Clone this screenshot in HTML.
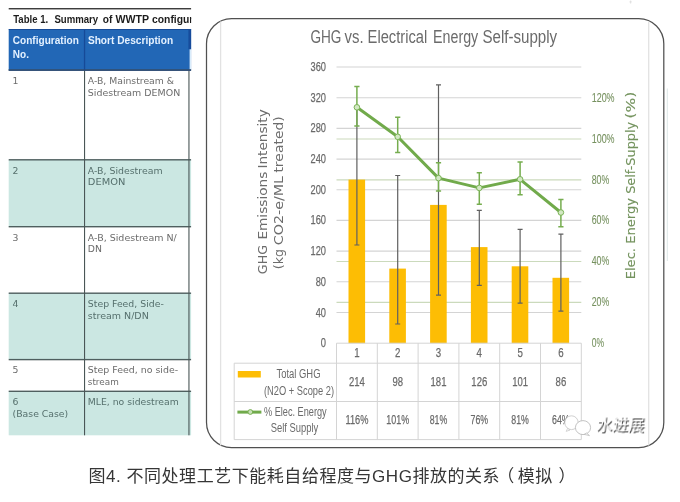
<!DOCTYPE html>
<html lang="zh">
<head>
<meta charset="utf-8">
<title>图4. 不同处理工艺下能耗自给程度与GHG排放的关系（模拟）</title>
<style>
html,body{margin:0;padding:0;background:#fff}
body{width:680px;height:502px;overflow:hidden;position:relative;font-family:"Liberation Sans","Noto Sans CJK SC",sans-serif}
svg{position:absolute;left:0;top:0;display:block;filter:blur(.45px)}
.th{font:bold 10px "Liberation Sans",sans-serif;fill:#e4f1ff}
.tt{font:bold 10px "Liberation Sans",sans-serif;fill:#1c1c1c}
.td{font:9.3px "DejaVu Sans","Liberation Sans",sans-serif;fill:#6c6c6c}
.tg{font:9.3px "DejaVu Sans","Liberation Sans",sans-serif;fill:#56706d}
.ct{font:17.5px "Liberation Sans",sans-serif;fill:#6b6b6b}
.ax{font:13px "Liberation Sans",sans-serif;fill:#6a6a6a;stroke:#6a6a6a;stroke-width:.25px}
.ar{font:12.5px "Liberation Sans",sans-serif;fill:#76915f;stroke:#76915f;stroke-width:.1px}
.at{font:12.5px "DejaVu Sans","Liberation Sans",sans-serif;fill:#6c6c6c}
.ag{font:12.5px "DejaVu Sans","Liberation Sans",sans-serif;fill:#74935e;stroke:#74935e;stroke-width:.12px}
.dt{font:13px "Liberation Sans",sans-serif;fill:#6a6a6a;stroke:#6a6a6a;stroke-width:.25px}
.lg{font:12px "Liberation Sans",sans-serif;fill:#6a6a6a}
.cap{font:17px "Liberation Sans","Noto Sans CJK SC",sans-serif;fill:#363636}
.wm{font:16px "Liberation Sans","Noto Sans CJK SC",sans-serif}
</style>
</head>
<body>
<svg width="680" height="502" viewBox="0 0 680 502">
<defs>
<clipPath id="tc"><rect x="0" y="0" width="191.3" height="502"/></clipPath>
</defs>
<rect x="0" y="0" width="680" height="502" fill="#ffffff"/>

<g clip-path="url(#tc)">
<rect x="8.7" y="8.1" width="182.6" height="1.3" fill="#2a2a2a"/>
<text class="tt" y="23.3"><tspan x="13.2" textLength="35" lengthAdjust="spacingAndGlyphs">Table 1.</tspan> <tspan x="54.4" textLength="43.8" lengthAdjust="spacingAndGlyphs">Summary</tspan> <tspan x="102.8" textLength="9.6" lengthAdjust="spacingAndGlyphs">of</tspan> <tspan x="115.4" textLength="33.4" lengthAdjust="spacingAndGlyphs">WWTP</tspan> <tspan x="152" textLength="41.4" lengthAdjust="spacingAndGlyphs">configur</tspan></text>
<rect x="8.7" y="29.3" width="182.6" height="40.8" fill="#2267b6"/>
<rect x="188.4" y="29.3" width="3" height="20" fill="#174c9c"/>
<rect x="189.6" y="49.3" width="1.8" height="20.8" fill="#d9ecfb"/>
<rect x="8.7" y="29.0" width="182.6" height="1.0" fill="#174a96"/>
<rect x="8.7" y="159.8" width="182.6" height="66.9" fill="#cbe7e2"/>
<rect x="8.7" y="293.2" width="182.6" height="66.4" fill="#cbe7e2"/>
<rect x="8.7" y="391.3" width="182.6" height="44.0" fill="#cbe7e2"/>
<rect x="8.7" y="69.4" width="182.6" height="1.4" fill="#4f5f5f"/>
<rect x="8.7" y="159.1" width="182.6" height="1.4" fill="#4f5f5f"/>
<rect x="8.7" y="226.0" width="182.6" height="1.4" fill="#4f5f5f"/>
<rect x="8.7" y="292.5" width="182.6" height="1.4" fill="#4f5f5f"/>
<rect x="8.7" y="358.9" width="182.6" height="1.4" fill="#4f5f5f"/>
<rect x="8.7" y="390.6" width="182.6" height="1.4" fill="#4f5f5f"/>
<rect x="83.9" y="29.3" width="1.3" height="40.8" fill="#164a98"/>
<rect x="84.0" y="70.1" width="1.1" height="365.2" fill="#4a5656"/>
<rect x="188.4" y="70.1" width="1.1" height="365.2" fill="#4a5656"/>
<rect x="8.7" y="69.4" width="182.6" height="1.4" fill="#2a4a7a"/>
<text class="th" x="12.8" y="43.6" textLength="66" lengthAdjust="spacingAndGlyphs">Configuration</text>
<text class="th" x="12.8" y="57.5">No.</text>
<text class="th" x="87.9" y="43.6" textLength="85.2" lengthAdjust="spacingAndGlyphs">Short Description</text>
<text class="td" x="12.6" y="83.9">1</text>
<text class="td" x="87.8" y="83.9" textLength="86.2" lengthAdjust="spacingAndGlyphs">A-B, Mainstream &amp;</text>
<text class="td" x="87.8" y="95.5" textLength="92.4" lengthAdjust="spacingAndGlyphs">Sidestream DEMON</text>
<text class="tg" x="12.6" y="174.1">2</text>
<text class="tg" x="87.8" y="174.1" textLength="74.8" lengthAdjust="spacingAndGlyphs">A-B, Sidestream</text>
<text class="tg" x="87.8" y="184.8" textLength="37.5" lengthAdjust="spacingAndGlyphs">DEMON</text>
<text class="td" x="12.6" y="240.6">3</text>
<text class="td" x="87.8" y="240.6" textLength="89" lengthAdjust="spacingAndGlyphs">A-B, Sidestream N/</text>
<text class="td" x="87.8" y="251.6">DN</text>
<text class="tg" x="12.6" y="306.9">4</text>
<text class="tg" x="87.8" y="306.9" textLength="76" lengthAdjust="spacingAndGlyphs">Step Feed, Side-</text>
<text class="tg" x="87.8" y="318.5" textLength="61" lengthAdjust="spacingAndGlyphs">stream N/DN</text>
<text class="td" x="12.6" y="373.4">5</text>
<text class="td" x="87.8" y="373.4" textLength="90.3" lengthAdjust="spacingAndGlyphs">Step Feed, no side-</text>
<text class="td" x="87.8" y="384.6" textLength="31" lengthAdjust="spacingAndGlyphs">stream</text>
<text class="tg" x="12.6" y="404.9">6</text>
<text class="tg" x="12.6" y="416.6" textLength="55.6" lengthAdjust="spacingAndGlyphs">(Base Case)</text>
<text class="tg" x="87.8" y="404.9" textLength="91" lengthAdjust="spacingAndGlyphs">MLE, no sidestream</text>
</g>
<rect x="206.5" y="18.7" width="457.3" height="428.9" rx="25" ry="25" fill="#ffffff" stroke="#505050" stroke-width="1.25"/>
<path d="M220.6 21.5V445.5M648.7 21.5V445.5" stroke="#e2e2e2" stroke-width="1.3" fill="none"/>
<path d="M667.3 88.5V261" stroke="#dde7e6" stroke-width="1" fill="none"/>
<path d="M630.6 .5V3.6M629.4 1.9H631.8" stroke="#d8d8d8" stroke-width=".7" fill="none"/>
<text class="ct" y="42.9"><tspan x="310.4" textLength="31" lengthAdjust="spacingAndGlyphs">GHG</tspan> <tspan x="344.6" textLength="19" lengthAdjust="spacingAndGlyphs">vs.</tspan> <tspan x="367.6" textLength="59.6" lengthAdjust="spacingAndGlyphs">Electrical</tspan> <tspan x="433" textLength="45.2" lengthAdjust="spacingAndGlyphs">Energy</tspan> <tspan x="482.4" textLength="74.8" lengthAdjust="spacingAndGlyphs">Self-supply</tspan></text>
<path d="M336.5 302.4H581.3" stroke="#cbdabc" stroke-width="1.1"/>
<path d="M336.5 261.5H581.3" stroke="#cbdabc" stroke-width="1.1"/>
<path d="M336.5 179.9H581.3" stroke="#cbdabc" stroke-width="1.1"/>
<path d="M336.5 139.0H581.3" stroke="#cbdabc" stroke-width="1.1"/>
<path d="M336.5 312.5H581.3" stroke="#d4d4d4" stroke-width="1.1"/>
<path d="M336.5 281.8H581.3" stroke="#d4d4d4" stroke-width="1.1"/>
<path d="M336.5 251.1H581.3" stroke="#d4d4d4" stroke-width="1.1"/>
<path d="M336.5 220.4H581.3" stroke="#d4d4d4" stroke-width="1.1"/>
<path d="M336.5 189.8H581.3" stroke="#d4d4d4" stroke-width="1.1"/>
<path d="M336.5 159.1H581.3" stroke="#d4d4d4" stroke-width="1.1"/>
<path d="M336.5 128.4H581.3" stroke="#d4d4d4" stroke-width="1.1"/>
<path d="M336.5 97.7H581.3" stroke="#d4d4d4" stroke-width="1.1"/>
<path d="M336.5 67.0H581.3" stroke="#d4d4d4" stroke-width="1.1"/>
<text class="ax" x="326" y="347.2" text-anchor="end" textLength="5.2" lengthAdjust="spacingAndGlyphs">0</text>
<text class="ax" x="326" y="316.5" text-anchor="end" textLength="10.3" lengthAdjust="spacingAndGlyphs">40</text>
<text class="ax" x="326" y="285.8" text-anchor="end" textLength="10.3" lengthAdjust="spacingAndGlyphs">80</text>
<text class="ax" x="326" y="255.1" text-anchor="end" textLength="15.5" lengthAdjust="spacingAndGlyphs">120</text>
<text class="ax" x="326" y="224.4" text-anchor="end" textLength="15.5" lengthAdjust="spacingAndGlyphs">160</text>
<text class="ax" x="326" y="193.8" text-anchor="end" textLength="15.5" lengthAdjust="spacingAndGlyphs">200</text>
<text class="ax" x="326" y="163.1" text-anchor="end" textLength="15.5" lengthAdjust="spacingAndGlyphs">240</text>
<text class="ax" x="326" y="132.4" text-anchor="end" textLength="15.5" lengthAdjust="spacingAndGlyphs">280</text>
<text class="ax" x="326" y="101.7" text-anchor="end" textLength="15.5" lengthAdjust="spacingAndGlyphs">320</text>
<text class="ax" x="326" y="71.0" text-anchor="end" textLength="15.5" lengthAdjust="spacingAndGlyphs">360</text>
<text class="ar" x="591.7" y="346.9" textLength="12.3" lengthAdjust="spacingAndGlyphs">0%</text>
<text class="ar" x="591.7" y="306.1" textLength="17.6" lengthAdjust="spacingAndGlyphs">20%</text>
<text class="ar" x="591.7" y="265.2" textLength="17.6" lengthAdjust="spacingAndGlyphs">40%</text>
<text class="ar" x="591.7" y="224.4" textLength="17.6" lengthAdjust="spacingAndGlyphs">60%</text>
<text class="ar" x="591.7" y="183.6" textLength="17.6" lengthAdjust="spacingAndGlyphs">80%</text>
<text class="ar" x="591.7" y="142.7" textLength="22.9" lengthAdjust="spacingAndGlyphs">100%</text>
<text class="ar" x="591.7" y="101.9" textLength="22.9" lengthAdjust="spacingAndGlyphs">120%</text>
<text class="at" transform="translate(267.2 274.2) rotate(-90)"><tspan x="0" textLength="29.2" lengthAdjust="spacingAndGlyphs">GHG</tspan> <tspan x="34.6" textLength="68.0" lengthAdjust="spacingAndGlyphs">Emissions</tspan> <tspan x="105.6" textLength="59.4" lengthAdjust="spacingAndGlyphs">Intensity</tspan></text>
<text class="at" transform="translate(283.3 269.2) rotate(-90)"><tspan x="0" textLength="20.2" lengthAdjust="spacingAndGlyphs">(kg</tspan> <tspan x="24" textLength="69.2" lengthAdjust="spacingAndGlyphs">CO2-e/ML</tspan> <tspan x="96.6" textLength="56.4" lengthAdjust="spacingAndGlyphs">treated)</tspan></text>
<text class="ag" transform="translate(635.3 279.3) rotate(-90)"><tspan x="0" textLength="31.3" lengthAdjust="spacingAndGlyphs">Elec.</tspan> <tspan x="35.6" textLength="45.7" lengthAdjust="spacingAndGlyphs">Energy</tspan> <tspan x="85.5" textLength="72.0" lengthAdjust="spacingAndGlyphs">Self-Supply</tspan> <tspan x="160.8" textLength="26.8" lengthAdjust="spacingAndGlyphs">(%)</tspan></text>
<rect x="348.5" y="179.6" width="16.6" height="163.6" fill="#fdbd04"/>
<rect x="389.3" y="268.6" width="16.6" height="74.6" fill="#fdbd04"/>
<rect x="430.1" y="204.9" width="16.6" height="138.3" fill="#fdbd04"/>
<rect x="470.9" y="247.1" width="16.6" height="96.1" fill="#fdbd04"/>
<rect x="511.7" y="266.3" width="16.6" height="76.9" fill="#fdbd04"/>
<rect x="552.5" y="277.8" width="16.6" height="65.4" fill="#fdbd04"/>
<path d="M356.9 108V245M354.4 108h5M354.4 245h5M397.7 175.5V324M395.2 175.5h5M395.2 324h5M438.5 84.9V295.2M436.0 84.9h5M436.0 295.2h5M479.3 210.4V285.3M476.8 210.4h5M476.8 285.3h5M520.1 229.3V303.1M517.6 229.3h5M517.6 303.1h5M560.9 234.1V311.1M558.4 234.1h5M558.4 311.1h5" stroke="#606060" stroke-width="1.2" fill="none"/>
<path d="M356.9 86.4V126M354.3 86.4h5.2M354.3 126h5.2M397.7 117.3V152.5M395.1 117.3h5.2M395.1 152.5h5.2M438.5 162.7V191M435.9 162.7h5.2M435.9 191h5.2M479.3 172.8V204.2M476.7 172.8h5.2M476.7 204.2h5.2M520.1 161.9V194.7M517.5 161.9h5.2M517.5 194.7h5.2M560.9 199.6V226.8M558.3 199.6h5.2M558.3 226.8h5.2" stroke="#76ad4f" stroke-width="1.5" fill="none"/>
<polyline points="356.9,107.3 397.7,136.8 438.5,178.1 479.3,187.9 520.1,179.3 560.9,212.5" fill="none" stroke="#71aa4b" stroke-width="3" stroke-linejoin="round" stroke-linecap="round"/>
<circle cx="356.9" cy="107.3" r="2.8" fill="#d3e8c4" stroke="#7ab356" stroke-width="1"/>
<circle cx="397.7" cy="136.8" r="2.8" fill="#d3e8c4" stroke="#7ab356" stroke-width="1"/>
<circle cx="438.5" cy="178.1" r="2.8" fill="#d3e8c4" stroke="#7ab356" stroke-width="1"/>
<circle cx="479.3" cy="187.9" r="2.8" fill="#d3e8c4" stroke="#7ab356" stroke-width="1"/>
<circle cx="520.1" cy="179.3" r="2.8" fill="#d3e8c4" stroke="#7ab356" stroke-width="1"/>
<circle cx="560.9" cy="212.5" r="2.8" fill="#d3e8c4" stroke="#7ab356" stroke-width="1"/>
<path d="M336.5 343.2H581.3M234.2 363.2H581.3M234.2 401.5H581.3M234.2 439.6H581.3M234.2 363.2V439.6" stroke="#d4d4d4" stroke-width="1" fill="none"/>
<path d="M336.5 343.2V439.6M377.3 343.2V439.6M418.1 343.2V439.6M458.9 343.2V439.6M499.7 343.2V439.6M540.5 343.2V439.6M581.3 343.2V439.6" stroke="#d4d4d4" stroke-width="1" fill="none"/>
<text class="dt" x="356.9" y="357.4" text-anchor="middle" textLength="5.4" lengthAdjust="spacingAndGlyphs">1</text>
<text class="dt" x="356.9" y="386.1" text-anchor="middle" textLength="15.9" lengthAdjust="spacingAndGlyphs">214</text>
<text class="dt" x="356.9" y="424.3" text-anchor="middle" textLength="22.9" lengthAdjust="spacingAndGlyphs">116%</text>
<text class="dt" x="397.7" y="357.4" text-anchor="middle" textLength="5.4" lengthAdjust="spacingAndGlyphs">2</text>
<text class="dt" x="397.7" y="386.1" text-anchor="middle" textLength="10.6" lengthAdjust="spacingAndGlyphs">98</text>
<text class="dt" x="397.7" y="424.3" text-anchor="middle" textLength="22.9" lengthAdjust="spacingAndGlyphs">101%</text>
<text class="dt" x="438.5" y="357.4" text-anchor="middle" textLength="5.4" lengthAdjust="spacingAndGlyphs">3</text>
<text class="dt" x="438.5" y="386.1" text-anchor="middle" textLength="15.9" lengthAdjust="spacingAndGlyphs">181</text>
<text class="dt" x="438.5" y="424.3" text-anchor="middle" textLength="17.6" lengthAdjust="spacingAndGlyphs">81%</text>
<text class="dt" x="479.3" y="357.4" text-anchor="middle" textLength="5.4" lengthAdjust="spacingAndGlyphs">4</text>
<text class="dt" x="479.3" y="386.1" text-anchor="middle" textLength="15.9" lengthAdjust="spacingAndGlyphs">126</text>
<text class="dt" x="479.3" y="424.3" text-anchor="middle" textLength="17.6" lengthAdjust="spacingAndGlyphs">76%</text>
<text class="dt" x="520.1" y="357.4" text-anchor="middle" textLength="5.4" lengthAdjust="spacingAndGlyphs">5</text>
<text class="dt" x="520.1" y="386.1" text-anchor="middle" textLength="15.9" lengthAdjust="spacingAndGlyphs">101</text>
<text class="dt" x="520.1" y="424.3" text-anchor="middle" textLength="17.6" lengthAdjust="spacingAndGlyphs">81%</text>
<text class="dt" x="560.9" y="357.4" text-anchor="middle" textLength="5.4" lengthAdjust="spacingAndGlyphs">6</text>
<text class="dt" x="560.9" y="386.1" text-anchor="middle" textLength="10.6" lengthAdjust="spacingAndGlyphs">86</text>
<text class="dt" x="560.9" y="424.3" text-anchor="middle" textLength="17.6" lengthAdjust="spacingAndGlyphs">64%</text>
<rect x="237.8" y="371" width="23" height="6.5" fill="#fdbd04"/>
<text class="lg" x="298.5" y="378" text-anchor="middle" textLength="44" lengthAdjust="spacingAndGlyphs">Total GHG</text>
<text class="lg" x="299" y="394.7" text-anchor="middle" textLength="70" lengthAdjust="spacingAndGlyphs">(N2O + Scope 2)</text>
<path d="M237.4 412.1H261.4" stroke="#71aa4b" stroke-width="3"/>
<circle cx="250.3" cy="412" r="2.4" fill="#c9e2b8" stroke="#78b053" stroke-width="1"/>
<text class="lg" x="295.3" y="416.3" text-anchor="middle" textLength="62.7" lengthAdjust="spacingAndGlyphs">% Elec. Energy</text>
<text class="lg" x="294.5" y="432.3" text-anchor="middle" textLength="47.5" lengthAdjust="spacingAndGlyphs">Self Supply</text>
<g>
<ellipse cx="571.5" cy="422.7" rx="6.7" ry="6.9" fill="#fff" stroke="#c4c4c4" stroke-width="0.8"/>
<path d="M567.6 428.4l-1.4 3 3.8-1.4z" fill="#fff" stroke="#c4c4c4" stroke-width="0.7"/>
<ellipse cx="583" cy="427.6" rx="7.6" ry="7" fill="#fff" stroke="#b4b4b4" stroke-width="0.8"/>
<path d="M586.5 433l3 2.6-5.2-1.2z" fill="#fff" stroke="#b4b4b4" stroke-width="0.7"/>
<text class="wm" transform="translate(596.2 430.4) skewX(-6)" fill="#ffffff" style="filter:drop-shadow(1.2px 1.1px .15px #3a3a3a)">水进展</text>
</g>
<text class="cap" x="88.4" y="482.1" letter-spacing=".544">图4. 不同处理工艺下能耗自给程度与GHG排放的关系<tspan dx="-3">（</tspan><tspan dx="3">模拟</tspan><tspan dx="5.6">）</tspan></text>
</svg>
</body>
</html>
